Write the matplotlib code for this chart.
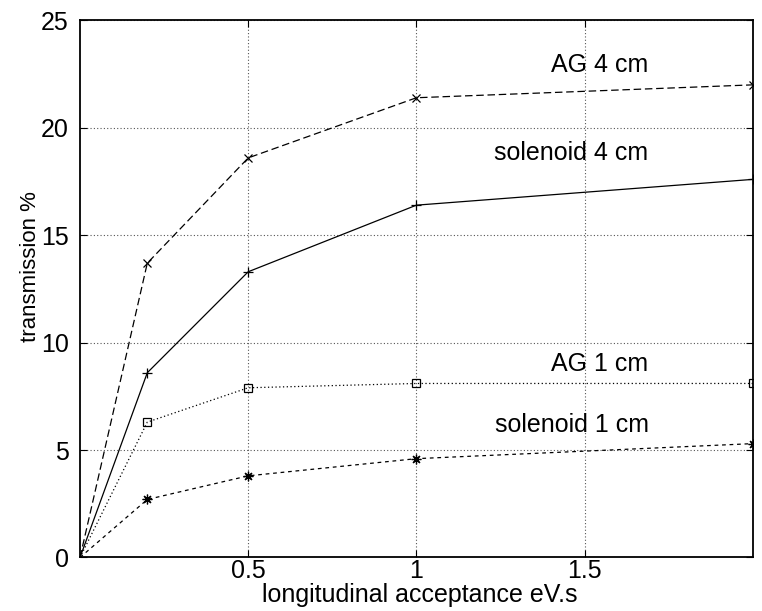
import matplotlib
matplotlib.use("Agg")
import matplotlib.pyplot as plt
import numpy as np

plt.rcParams['font.family'] = ['Liberation Sans', 'DejaVu Sans']

# longitudinal acceptance (eV.s)
acc = [0.0, 0.2, 0.5, 1.0, 2.0]

# transmission in percent for each focusing channel
ag_4cm = [0.0, 13.7, 18.6, 21.4, 22.0]
sol_4cm = [0.0, 8.6, 13.3, 16.4, 17.6]
ag_1cm = [0.0, 6.3, 7.9, 8.1, 8.1]
sol_1cm = [0.0, 2.7, 3.8, 4.6, 5.3]

labels = ['AG 4 cm', 'solenoid 4 cm', 'AG 1 cm', 'solenoid 1 cm']
label_y = [22.6, 18.5, 8.7, 5.85]

xticks = [0.5, 1, 1.5]
yticks = [0, 5, 10, 15, 20, 25]

fig = plt.figure(figsize=(7.62, 6.11), dpi=100)
ax = fig.add_axes([0.105, 0.0876, 0.883, 0.879])

# no point symbol at the origin, only at the measured acceptances
pts = [1, 2, 3, 4]
lw = 0.9
ax.plot(acc, ag_4cm, color='black', lw=lw, ls=(0, (6, 3)), marker='x', ms=6, mew=0.9,
        markevery=pts)
ax.plot(acc, sol_4cm, color='black', lw=lw, ls='-', marker='+', ms=7, mew=0.9,
        markevery=pts)
ax.plot(acc, ag_1cm, color='black', lw=lw, ls=(0, (1, 2)), marker='s', ms=6,
        mfc='none', mew=0.9, markevery=pts)
ax.plot(acc, sol_1cm, color='black', lw=lw, ls=(0, (3, 3)), marker=(8, 2, 0), ms=7, mew=0.9,
        markevery=pts)

for txt, yy in zip(labels, label_y):
    ax.text(1.69, yy, txt, ha='right', va='baseline', fontsize=18)

ax.set_xlim(0, 2)
ax.set_ylim(0, 25)
ax.set_xticks(xticks)
ax.set_xticklabels(['0.5', '1', '1.5'])
ax.set_yticks(yticks)
ax.tick_params(direction='in', top=True, right=True, labelsize=18, length=5)
ax.tick_params(axis='x', pad=1)
ax.tick_params(axis='y', pad=8)
ax.grid(True, ls=(0, (1, 2)), color='#555555', lw=0.8)

for sp in ax.spines.values():
    sp.set_linewidth(1.3)

ax.set_xlabel('longitudinal acceptance eV.s', fontsize=18, va='baseline')
ax.xaxis.set_label_coords(0.505, -0.082)
ax.set_ylabel('transmission %', fontsize=16)
ax.yaxis.set_label_coords(-0.058, 0.542)

fig.savefig('out.png', dpi=100)
